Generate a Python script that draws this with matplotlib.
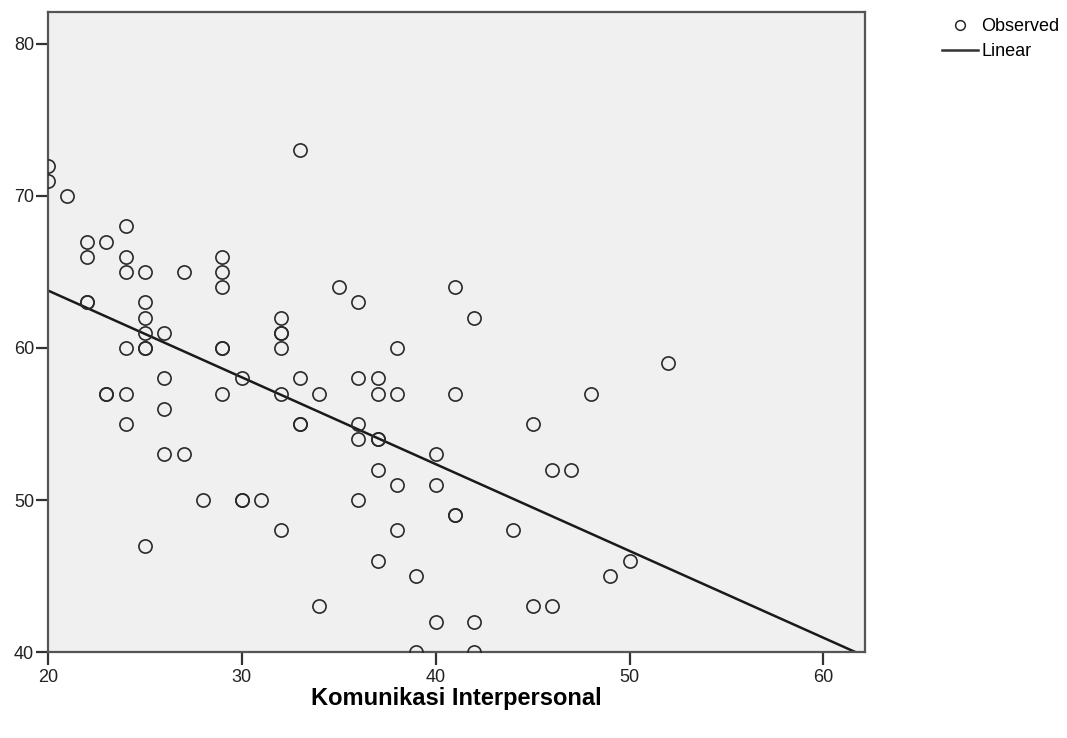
import numpy as np
import matplotlib
matplotlib.use("Agg")
import matplotlib.pyplot as plt
from matplotlib.lines import Line2D

plt.rcParams['font.family'] = ['Liberation Sans', 'DejaVu Sans']

# observed points (duplicates listed twice, they show up as darker rings)
komunikasi = [20, 20, 21, 22, 22, 22, 22, 23, 23, 23,
              24, 24, 24, 24, 24, 24, 25, 25, 25, 25, 25, 25, 25,
              26, 26, 26, 26, 27, 27, 28,
              29, 29, 29, 29, 29, 29, 30, 30, 30, 31,
              32, 32, 32, 32, 32, 32, 33, 33, 33, 33, 34, 34, 35,
              36, 36, 36, 36, 36, 37, 37, 37, 37, 37, 37,
              38, 38, 38, 38, 39, 39, 40, 40, 40,
              41, 41, 41, 41, 42, 42, 42, 44, 45, 45, 46, 46,
              47, 48, 49, 50, 52]
nilai = [72, 71, 70, 67, 66, 63, 63, 67, 57, 57,
         68, 66, 65, 60, 57, 55, 65, 63, 62, 61, 60, 60, 47,
         61, 58, 56, 53, 65, 53, 50,
         66, 65, 64, 60, 60, 57, 58, 50, 50, 50,
         62, 61, 61, 60, 57, 48, 73, 58, 55, 55, 57, 43, 64,
         63, 58, 55, 54, 50, 58, 57, 54, 54, 52, 46,
         60, 57, 51, 48, 45, 40, 53, 51, 42,
         64, 57, 49, 49, 62, 42, 40, 48, 55, 43, 52, 43,
         52, 57, 45, 46, 59]

# fitted linear line
intercept = 75.2
slope = -0.571
fit_x = [20, 62.2]

fig = plt.figure(figsize=(10.67, 7.38), dpi=100)
ax = fig.add_axes([0.045, 0.1165, 0.7657, 0.8672])
ax.set_facecolor('#f0f0f0')

ax.plot(komunikasi, nilai, linestyle='none', marker='o', markersize=9.5,
        markerfacecolor='none', markeredgecolor='#2a2a2a', markeredgewidth=1.2,
        zorder=3)
fx = np.array(fit_x)
ax.plot(fx, intercept + slope * fx, color='#1a1a1a', linewidth=1.8, zorder=2)

ax.set_xlim(20, 62.15)
ax.set_ylim(40, 82.1)
ax.set_xticks([20, 30, 40, 50, 60])
ax.set_yticks([40, 50, 60, 70, 80])
ax.tick_params(direction='out', length=9, width=1.6, color='#333333',
               labelsize=13, labelcolor='#222222', pad=1)
ax.tick_params(axis='x', pad=3)
for s in ax.spines.values():
    s.set_color('#555555')
    s.set_linewidth(1.6)

ax.set_xlabel('Komunikasi Interpersonal', fontsize=17, fontweight='bold',
              va='center')
ax.xaxis.set_label_coords(0.5, -0.073)

handles = [Line2D([], [], linestyle='none', marker='o', markersize=7,
                  markerfacecolor='none', markeredgecolor='#2a2a2a',
                  markeredgewidth=1.1),
           Line2D([], [], color='#333333', linewidth=1.8)]
fig.legend(handles, ['Observed', 'Linear'], loc='upper left',
           bbox_to_anchor=(0.874, 0.988), frameon=False, fontsize=13,
           handlelength=2.0, handletextpad=0.2, labelspacing=0.45,
           borderpad=0)

fig.savefig('out.png', dpi=100)
